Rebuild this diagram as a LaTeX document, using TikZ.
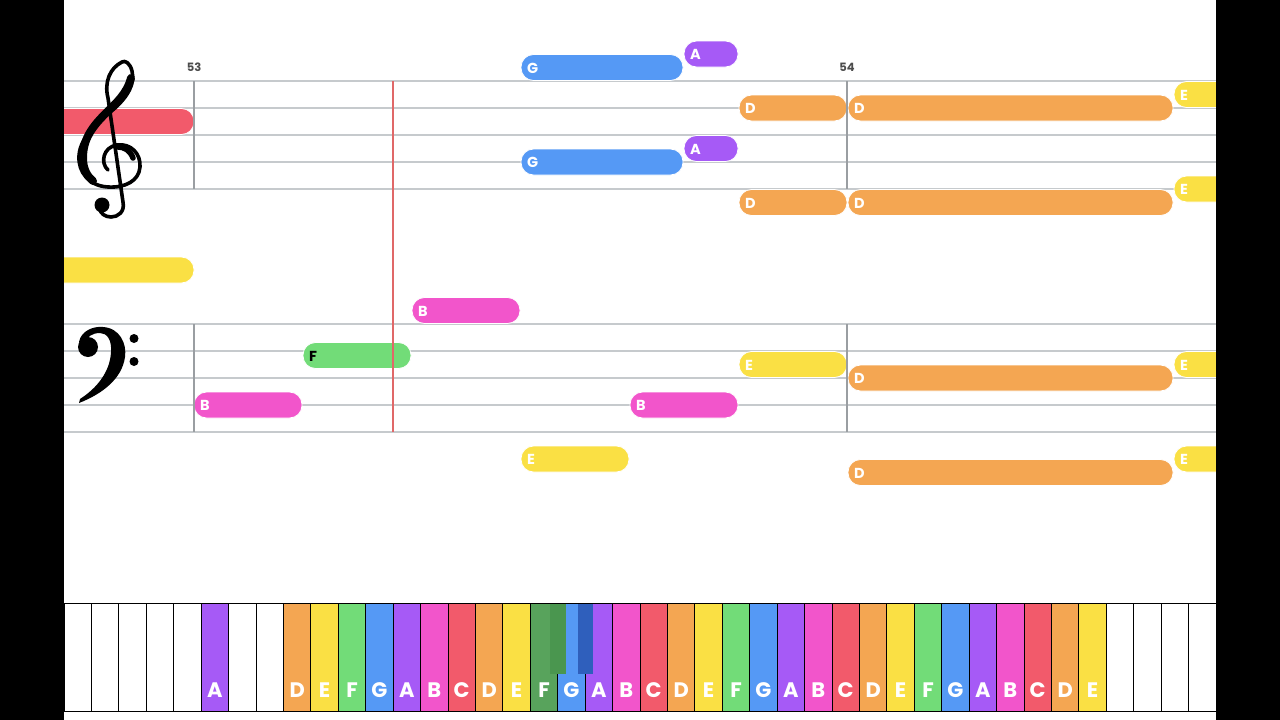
\documentclass[tikz,border=0pt]{standalone}
\usepackage{fontspec}
\setmainfont{Poppins}
\definecolor{cC}{HTML}{F25A6B}
\definecolor{cD}{HTML}{F4A652}
\definecolor{cE}{HTML}{FAE044}
\definecolor{cF}{HTML}{72DC78}
\definecolor{cG}{HTML}{5599F5}
\definecolor{cA}{HTML}{A65AF6}
\definecolor{cB}{HTML}{F255CB}
\definecolor{staffgrey}{HTML}{C6CACD}
\definecolor{bargrey}{HTML}{9A9EA2}
\definecolor{playred}{HTML}{E06868}
\definecolor{fpress}{HTML}{58A35C}
\definecolor{fsharp}{HTML}{4A964F}
\definecolor{gsharp}{HTML}{2F5FBC}
\tikzset{
    staffline/.style={staffgrey, line width=1.6pt},
    barline/.style={bargrey, line width=1.6pt},
    notebar/.style={draw=white, line width=0.8pt, rounded corners=12.5pt},
    notelab/.style={font=\bfseries\fontsize{14.5}{14.5}\selectfont, inner sep=0pt, anchor=west},
    keylab/.style={text=white, font=\bfseries\fontsize{21}{21}\selectfont, inner sep=0pt},
    barnum/.style={text=black!70, font=\bfseries\fontsize{11.5}{11.5}\selectfont, inner sep=0pt},
    pianokey/.style={draw=black, line width=1pt},
    clefline/.style={black, line width=3.6pt, line cap=round, line join=round},
}
\begin{document}
\begin{tikzpicture}[x=1pt,y=-1pt]
    \useasboundingbox (0,0) rectangle (1280,720);
    \fill[white] (0,0) rectangle (1280,720);

    % staves
    \foreach \y in {81,108,135,162,189,324,351,378,405,432}
        \draw[staffline] (64,\y) -- (1216,\y);

    % notes: start/end/centre/colour/label/label colour
    \foreach \a/\b/\y/\c/\l/\t [count=\n] in {
        30/194/121.5/cC//white, 521/683/67.5/cG/G/white, 684/738/54/cA/A/white,
        739/847/108/cD/D/white, 848/1173/108/cD/D/white, 1174/1260/94.5/cE/E/white,
        521/683/162/cG/G/white, 684/738/148.5/cA/A/white, 739/847/202.5/cD/D/white,
        848/1173/202.5/cD/D/white, 1174/1260/189/cE/E/white,
        30/194/270/cE//white, 194/302/405/cB/B/white, 303/411/355.5/cF/F/black,
        412/520/310.5/cB/B/white, 630/738/405/cB/B/white, 521/629/459/cE/E/white,
        739/847/364.5/cE/E/white, 848/1173/378/cD/D/white, 848/1173/472.5/cD/D/white,
        1174/1260/364.5/cE/E/white, 1174/1260/459/cE/E/white}{
        \draw[notebar, fill=\c] (\a,\y-13) rectangle (\b,\y+13);
        \node[notelab, text=\t] (note\n) at (\a+6,\y+0.5) {\l};
    }

    % bar lines and numbers
    \foreach \x in {194,847}{
        \draw[barline] (\x,81) -- (\x,189);
        \draw[barline] (\x,324) -- (\x,432);
    }
    \node[barnum] (m53) at (194,67) {53};
    \node[barnum] (m54) at (847,67) {54};

    % treble clef
    \draw[clefline] (108,170) .. controls (100,163) and (103,147) .. (117,145)
        .. controls (131,143) and (141,154) .. (140,167)
        .. controls (139,181) and (125,188) .. (108,187)
        .. controls (89,186) and (78,172) .. (79,156)
        .. controls (80,136) and (100,121) .. (115,108)
        .. controls (128,96) and (135,84) .. (132,71)
        .. controls (130,63) and (125,60) .. (122,62)
        .. controls (110,68) and (104,82) .. (108,98)
        -- (123,202)
        .. controls (125,212) and (118,217) .. (111,217)
        .. controls (105,217) and (100,213) .. (100,209);
    \draw[clefline, line width=8pt] (131,78) .. controls (127,94) and (115,104) .. (106,113)
        .. controls (92,127) and (83,139) .. (83,158)
        .. controls (83,170) and (88,177) .. (93,181);
    \draw[clefline, line width=5.5pt] (133,158) .. controls (130,150) and (124,147) .. (118,147);
    \fill[black] (102,205) circle (7.5);

    % bass clef
    \fill[black] (79,342) .. controls (81,331) and (93,326) .. (103,327)
        .. controls (120,328) and (127,344) .. (125,357)
        .. controls (122,379) and (102,394) .. (79,403)
        -- (80,399) .. controls (97,388) and (110,372) .. (111,352)
        .. controls (112,340) and (107,333) .. (100,333)
        .. controls (92,333) and (87,337) .. (85,342) -- cycle;
    \fill[black] (88,347) circle (10);
    \fill[black] (134,338.5) circle (4.5);
    \fill[black] (134,361.5) circle (4.5);

    % play head
    \draw[playred, line width=2.6pt] (393,81) -- (393,432);

    % keyboard
    \def\kw{27.4286}
    \foreach \i in {0,...,41}
        \draw[pianokey, fill=white] ({64+\i*\kw},603) rectangle ({64+(\i+1)*\kw},711);
    \foreach \i in {5,...,37}{
        \ifnum\i>5 \ifnum\i<8 \else
            \pgfmathtruncatemacro\ki{mod(\i+2,7)}
            \pgfmathparse{{"A","B","C","D","E","F","G"}[\ki]}
            \edef\kl{\pgfmathresult}
            \ifnum\i=17 \def\kc{fpress}\else \edef\kc{c\kl}\fi
            \draw[pianokey, fill=\kc] ({64+\i*\kw},603) rectangle ({64+(\i+1)*\kw},711);
            \node[keylab] (key\i) at ({64+(\i+0.5)*\kw},690) {\kl};
        \fi \else
            \draw[pianokey, fill=cA] ({64+\i*\kw},603) rectangle ({64+(\i+1)*\kw},711);
            \node[keylab] (key\i) at ({64+(\i+0.5)*\kw},690) {A};
        \fi
    }
    \fill[fsharp] (550,604) rectangle (565.5,674);
    \fill[gsharp] (577.5,604) rectangle (593,674);

    % side bars
    \fill[black] (0,0) rectangle (64,720);
    \fill[black] (1216,0) rectangle (1280,720);
\end{tikzpicture}
\end{document}
